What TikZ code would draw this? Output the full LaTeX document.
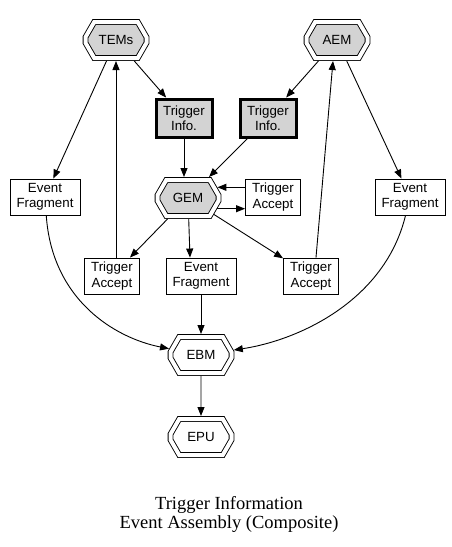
\documentclass[tikz,border=0pt]{standalone}
\usepackage{fontspec}
\setmainfont{Liberation Serif}
\newfontfamily\gvsans{Liberation Sans}
\usetikzlibrary{shapes.misc,arrows.meta}
\definecolor{lightgrey}{HTML}{D3D3D3}

\begin{document}
\begin{tikzpicture}[
        x=1pt, y=-1pt,
        line width=0.9pt,
        every node/.style={
                font=\gvsans\fontsize{13.3}{15.5}\selectfont,
                align=center
            },
        octnode/.style={
                chamfered rectangle,
                chamfered rectangle angle=30,
                chamfered rectangle ysep=10.5pt,
                draw, double, double distance=4pt,
                minimum width=61pt, minimum height=36pt,
                inner sep=0pt, outer sep=3pt
            },
        grayoct/.style={octnode, fill=lightgrey},
        infobox/.style={draw, line width=3pt, fill=lightgrey,
                minimum width=56pt, minimum height=38pt, inner sep=0pt},
        plainbox/.style={draw, minimum height=36pt, inner sep=0pt},
        efrag/.style={plainbox, minimum width=70pt},
        tacc/.style={plainbox, minimum width=55pt},
        link/.style={draw, -{Triangle[length=9pt,width=7pt]}}
    ]
    \useasboundingbox (0,0) rectangle (452,547);

    \node[grayoct] (tems) at (116,40) {TEMs};
    \node[grayoct] (aem) at (337,40) {AEM};
    \node[infobox] (tinfoL) at (184,118) {Trigger\\Info.};
    \node[infobox] (tinfoR) at (268,118) {Trigger\\Info.};
    \node[grayoct] (gem) at (188,198) {GEM};
    \node[tacc] (taccG) at (273,197) {Trigger\\Accept};
    \node[efrag] (efragL) at (45,197) {Event\\Fragment};
    \node[efrag] (efragR) at (410,197) {Event\\Fragment};
    \node[tacc] (taccL) at (112,276) {Trigger\\Accept};
    \node[efrag] (efragM) at (201,276) {Event\\Fragment};
    \node[tacc] (taccR) at (311,276) {Trigger\\Accept};
    \node[octnode] (ebm) at (201,355) {EBM};
    \node[octnode] (epu) at (201,437) {EPU};
    \node[font=\rmfamily\fontsize{18.5}{19}\selectfont] (caption) at (229,514)
        {Trigger Information\\Event Assembly (Composite)};

    % top level
    \draw[link] (tems) -- (efragL);
    \draw[link] (tems) -- (tinfoL);
    \draw[link] (tems.south |- taccL.north) -- (tems.south);
    \draw[link] (aem) -- (tinfoR);
    \draw[link] (aem) -- (efragR);
    \draw[link] ([xshift=5pt]taccR.north) -- ([xshift=-4pt]aem.south);

    % GEM
    \draw[link] (tinfoL.south) -- (tinfoL.south |- gem.north);
    \draw[link] (tinfoR) -- (gem);
    \draw[link] (taccG.west |- gem.20) -- (gem.20);
    \draw[link] (gem.-20) -- (taccG.west |- gem.-20);
    \draw[link] (gem) -- (taccL);
    \draw[link] (gem) -- ([xshift=-11pt]efragM.north);
    \draw[link] (gem) -- (taccR);

    % event builder
    \draw[link] (efragL) .. controls (52,300) and (115,338) .. (ebm);
    \draw[link] (efragM) -- (ebm);
    \draw[link] (efragR) .. controls (385,300) and (300,340) .. (ebm);
    \draw[link] (ebm) -- (epu);

\end{tikzpicture}
\end{document}
